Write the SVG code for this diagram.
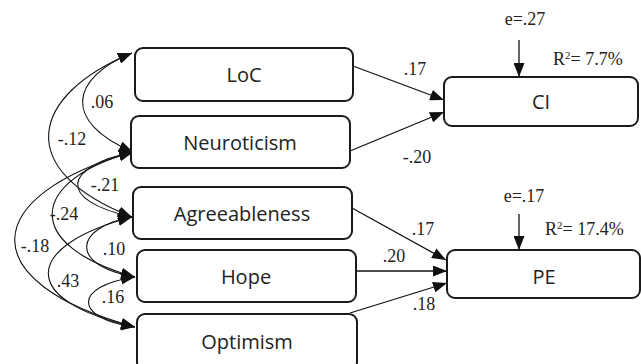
<svg xmlns="http://www.w3.org/2000/svg" width="641" height="364" viewBox="0 0 641 364">
<defs>
<marker id="ah" markerUnits="userSpaceOnUse" markerWidth="14" markerHeight="11" refX="14" refY="5.5" orient="auto-start-reverse" viewBox="0 0 14 11">
<path d="M0,0 L14,5.5 L0,11 z" fill="#111"/>
</marker>
</defs>
<style>
.box{fill:#fff;stroke:#1a1a1a;stroke-width:2}
.lbl{font-family:"Open Sans","Liberation Sans",sans-serif;font-size:20px;fill:#222;text-anchor:middle}
.num{font-family:"Liberation Serif","Times New Roman",serif;font-size:18px;fill:#222;text-anchor:middle}
.num2{font-family:"Liberation Serif","Times New Roman",serif;font-size:18px;fill:#222}
.cov{fill:none;stroke:#111;stroke-width:1.1;marker-start:url(#ah);marker-end:url(#ah)}
.path{fill:none;stroke:#111;stroke-width:1.3;marker-end:url(#ah)}
</style>
<g id="connectors">
<path class="cov" d="M132,53 C70,78 62,122 133,152"/>
<path class="cov" d="M132,53 C30,95 12,170 132,217"/>
<path class="cov" d="M133,152 C64,166 55,200 132,217"/>
<path class="cov" d="M133,152 C30,180 20,245 135,277"/>
<path class="cov" d="M133,152 C-20,195 -30,282 135,327"/>
<path class="cov" d="M132,217 C72,228 70,266 135,277"/>
<path class="cov" d="M132,217 C25,245 15,300 135,327"/>
<path class="cov" d="M135,277 C74,286 72,318 135,327"/>
<path class="path" d="M353,66 L444,100"/>
<path class="path" d="M350,151 L444,112"/>
<path class="path" d="M352,208 L446,260"/>
<path class="path" d="M356,271 L447,271"/>
<path class="path" d="M350,313 L447,283"/>
<path class="path" d="M519,40 L519,77"/>
<path class="path" d="M519,214 L519,250"/>
</g>
<g id="LoC"><rect class="box" x="135" y="48" width="218" height="53" rx="8"/><text class="lbl" x="244" y="82">LoC</text></g>
<g id="Neuroticism"><rect class="box" x="131" y="116" width="219" height="52" rx="8"/><text class="lbl" x="240" y="150">Neuroticism</text></g>
<g id="Agreeableness"><rect class="box" x="133" y="187" width="219" height="52" rx="8"/><text class="lbl" x="242" y="221">Agreeableness</text></g>
<g id="Hope"><rect class="box" x="137" y="250" width="219" height="52" rx="8"/><text class="lbl" x="246" y="284">Hope</text></g>
<g id="Optimism"><rect class="box" x="137" y="314" width="220" height="56" rx="8"/><text class="lbl" x="247" y="349">Optimism</text></g>
<g id="CI"><rect class="box" x="444" y="77" width="194" height="49" rx="8"/><text class="lbl" x="541" y="109">CI</text></g>
<g id="PE"><rect class="box" x="447" y="250" width="193" height="48" rx="8"/><text class="lbl" x="544" y="284">PE</text></g>
<g id="labels">
<text class="num" x="102" y="108">.06</text>
<text class="num" x="72" y="145">-.12</text>
<text class="num" x="105" y="191">-.21</text>
<text class="num" x="64" y="220">-.24</text>
<text class="num" x="35" y="252">-.18</text>
<text class="num" x="114" y="255">.10</text>
<text class="num" x="68" y="287">.43</text>
<text class="num" x="113" y="303">.16</text>
<text class="num" x="415" y="75">.17</text>
<text class="num" x="417" y="163">-.20</text>
<text class="num" x="423" y="235">.17</text>
<text class="num" x="394" y="262">.20</text>
<text class="num" x="424" y="310">.18</text>
<text class="num" x="525" y="25">e=.27</text>
<text class="num" x="524" y="202">e=.17</text>
<text class="num2" x="553" y="65">R<tspan font-size="11" dy="-6">2</tspan><tspan dy="6">= 7.7%</tspan></text>
<text class="num2" x="545" y="235">R<tspan font-size="11" dy="-6">2</tspan><tspan dy="6">= 17.4%</tspan></text>
</g>
</svg>
